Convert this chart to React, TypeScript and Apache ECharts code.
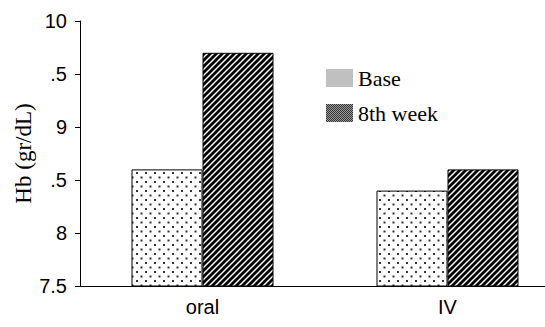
import React, { useEffect, useRef } from "react";
import * as echarts from "echarts";

const categories = ["oral", "IV"];
const baseValues = [8.6, 8.4];
const week8Values = [9.7, 8.6];
const seriesNames = ["Base", "8th week"];
const yMin = 7.5;
const yMax = 10;
const yStep = 0.5;
// tick labels as they appear in the reference (the leading digit of x.5 is hidden by the axis title)
const yTickValues = [7.5, 8, 8.5, 9, 9.5, 10];
const yTickLabels = ["7.5", "8", ".5", "9", ".5", "10"];

function makeDots(): HTMLCanvasElement {
  const c = document.createElement("canvas");
  c.width = 9;
  c.height = 9;
  const g = c.getContext("2d")!;
  g.fillStyle = "#ffffff";
  g.fillRect(0, 0, 9, 9);
  g.fillStyle = "#333333";
  g.fillRect(1, 1, 2, 2);
  g.fillRect(5.5, 5.5, 2, 2);
  return c;
}

function makeStripes(): HTMLCanvasElement {
  const s = 6;
  const c = document.createElement("canvas");
  c.width = s;
  c.height = s;
  const g = c.getContext("2d")!;
  g.fillStyle = "#ffffff";
  g.fillRect(0, 0, s, s);
  g.strokeStyle = "#000000";
  g.lineWidth = 2.8;
  g.beginPath();
  g.moveTo(-s, 2 * s);
  g.lineTo(2 * s, -s);
  g.moveTo(-2 * s, 2 * s);
  g.lineTo(s, -s);
  g.moveTo(0, 2 * s);
  g.lineTo(3 * s, -s);
  g.stroke();
  return c;
}

function makeChecker(): HTMLCanvasElement {
  const c = document.createElement("canvas");
  c.width = 2;
  c.height = 2;
  const g = c.getContext("2d")!;
  g.fillStyle = "#9a9a9a";
  g.fillRect(0, 0, 2, 2);
  g.fillStyle = "#333333";
  g.fillRect(0, 0, 1, 1);
  g.fillRect(1, 1, 1, 1);
  return c;
}

function tickLabel(v: number): string {
  for (let i = 0; i < yTickValues.length; i++) {
    if (Math.abs(yTickValues[i] - v) < 1e-6) return yTickLabels[i];
  }
  return String(v);
}

export default function App() {
  const ref = useRef<HTMLDivElement>(null);
  useEffect(() => {
    if (!ref.current) return;
    const chart = echarts.init(ref.current, undefined, { renderer: "svg" });
    const dots = { image: makeDots(), repeat: "repeat" } as any;
    const stripes = { image: makeStripes(), repeat: "repeat" } as any;
    const checker = { image: makeChecker(), repeat: "repeat" } as any;
    chart.setOption({
      animation: false,
      backgroundColor: "#ffffff",
      grid: {
        left: 80,
        right: -25,
        top: 21,
        bottom: 41,
        containLabel: false,
        outerBoundsMode: "none",
      },
      legend: {
        orient: "vertical",
        left: 326,
        top: 67,
        padding: 0,
        itemWidth: 27,
        itemHeight: 18,
        itemGap: 13,
        icon: "rect",
        selectedMode: false,
        textStyle: {
          fontFamily: "Liberation Serif",
          fontSize: 22,
          color: "#000",
        },
        data: [
          { name: seriesNames[0], itemStyle: { color: "#c0c0c0", borderWidth: 0 } },
          { name: seriesNames[1], itemStyle: { color: checker, borderWidth: 0 } },
        ],
      },
      xAxis: {
        type: "category",
        data: categories,
        axisLine: { lineStyle: { color: "#000", width: 1 } },
        axisTick: { show: false },
        axisLabel: {
          margin: 11,
          fontFamily: "Liberation Sans",
          fontSize: 20,
          color: "#000",
        },
      },
      yAxis: {
        type: "value",
        min: yMin,
        max: yMax,
        interval: yStep,
        name: "Hb (gr/dL)",
        nameLocation: "middle",
        nameRotate: 90,
        nameGap: 45,
        nameMoveOverlap: false,
        nameTextStyle: {
          fontFamily: "Liberation Serif",
          fontSize: 23,
          color: "#000",
        },
        splitLine: { show: false },
        axisLine: { show: true, lineStyle: { color: "#000", width: 1 } },
        axisTick: { show: true, length: 5, lineStyle: { color: "#000" } },
        axisLabel: {
          margin: 13,
          fontFamily: "Liberation Sans",
          fontSize: 20,
          color: "#000",
          formatter: (v: number) => tickLabel(v),
        },
      },
      series: [
        {
          name: seriesNames[0],
          type: "bar",
          data: baseValues,
          barWidth: 71,
          barGap: "0%",
          itemStyle: { color: dots, borderColor: "#000", borderWidth: 1 },
        },
        {
          name: seriesNames[1],
          type: "bar",
          data: week8Values,
          barWidth: 71,
          barGap: "0%",
          itemStyle: { color: stripes, borderColor: "#000", borderWidth: 1 },
        },
      ],
    });
    return () => chart.dispose();
  }, []);
  return <div ref={ref} style={{ width: 545, height: 327, position: "absolute", left: 0, top: 0 }} />;
}
